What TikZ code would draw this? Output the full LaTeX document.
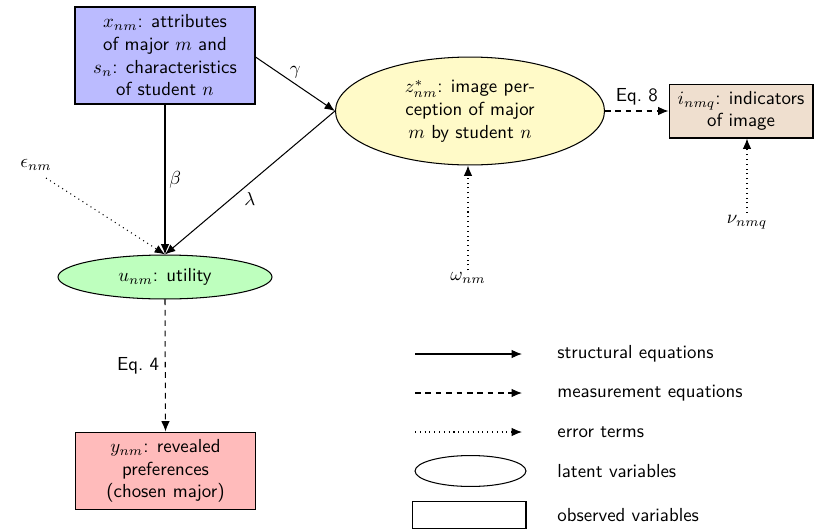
\documentclass[tikz,border=0pt]{standalone}
\usetikzlibrary{shapes.geometric,arrows.meta,calc}
\begin{document}
\begin{tikzpicture}[x=0.53pt,y=-0.53pt,
  every node/.style={font=\sffamily},
  obsbox/.style={draw,line width=0.55pt,rectangle,align=center,inner sep=1pt},
  latbox/.style={draw,line width=0.55pt,ellipse,align=center,inner sep=1pt},
  struct/.style={line width=0.55pt,-{Latex[length=5.5pt,width=4.5pt]}},
  meas/.style={line width=0.55pt,dash pattern=on 3pt off 2.5pt,-{Latex[length=5.5pt,width=4.5pt]}},
  err/.style={line width=0.55pt,dotted,-{Latex[length=5.5pt,width=4.5pt]}},
  lbl/.style={font=\sffamily,inner sep=2pt}]
\useasboundingbox (0,0) rectangle (814,531);
\definecolor{boxblue}{RGB}{187,187,255}
\definecolor{boxred}{RGB}{255,187,187}
\definecolor{ellgreen}{RGB}{190,255,190}
\definecolor{ellyellow}{RGB}{255,250,200}
\definecolor{boxtan}{RGB}{239,223,207}

\node[obsbox,fill=boxblue,minimum width=95.4pt,minimum height=51.4pt] (x) at (165,55.5)
  {$x_{nm}$: attributes\\of major $m$ and\\$s_n$: characteristics\\of student $n$};
\node[latbox,fill=ellyellow,minimum width=142.6pt,minimum height=57.2pt] (z) at (470,111)
  {$z^*_{nm}$: image per-\\ception of major\\$m$ by student $n$};
\node[obsbox,fill=boxtan,minimum width=76.3pt,minimum height=28.6pt] (i) at (741,111)
  {$i_{nmq}$: indicators\\of image};
\node[latbox,fill=ellgreen,minimum width=113.4pt,minimum height=23.3pt] (u) at (165,277)
  {$u_{nm}$: utility};
\node[obsbox,fill=boxred,minimum width=94.9pt,minimum height=41.3pt] (y) at (165.5,471)
  {$y_{nm}$: revealed\\preferences\\(chosen major)};

\node[inner sep=1pt] (eps) at (36,165) {$\epsilon_{nm}$};
\coordinate (epsend) at (46,178);
\node[inner sep=1pt] (om) at (468,278) {$\omega_{nm}$};
\node[inner sep=1pt] (nu) at (747,222) {$\nu_{nmq}$};

\draw[struct] (x.south) -- node[lbl,right] {$\beta$} (u.north);
\draw[struct] (x.east |- 0,57) -- node[lbl,above=1pt] {$\gamma$} (z.west);
\draw[struct] (z.west) -- node[lbl,below=3pt] {$\lambda$} (u.north);
\draw[err] (epsend) -- (u.north);
\draw[err] (om.north) -- (om.north |- z.south);
\draw[err] (nu.north) -- (nu.north |- i.south);
\draw[meas] (z.east) -- node[lbl,above=1pt] {Eq.~8} (i.west);
\draw[meas] (u.south) -- node[lbl,left=1pt] {Eq.~4} (y.north);

% legend
\coordinate (l1a) at (415,354); \coordinate (l1b) at (522,354);
\coordinate (l2a) at (415,393); \coordinate (l2b) at (522,393);
\coordinate (l3a) at (415,432); \coordinate (l3b) at (522,432);
\draw[struct] (l1a) -- (l1b);
\draw[meas] (l2a) -- (l2b);
\draw[err] (l3a) -- (l3b);
\node[latbox,minimum width=58.8pt,minimum height=16.4pt] (le) at (470.5,471) {};
\node[obsbox,minimum width=60.4pt,minimum height=14.8pt] (lr) at (469,515) {};
\node[anchor=west,inner sep=0pt] (t1) at (557,354) {structural equations};
\node[anchor=west,inner sep=0pt] (t2) at (557,393) {measurement equations};
\node[anchor=west,inner sep=0pt] (t3) at (557,432) {error terms};
\node[anchor=west,inner sep=0pt] (t4) at (557,471) {latent variables};
\node[anchor=west,inner sep=0pt] (t5) at (557,515) {observed variables};
\end{tikzpicture}
\end{document}
